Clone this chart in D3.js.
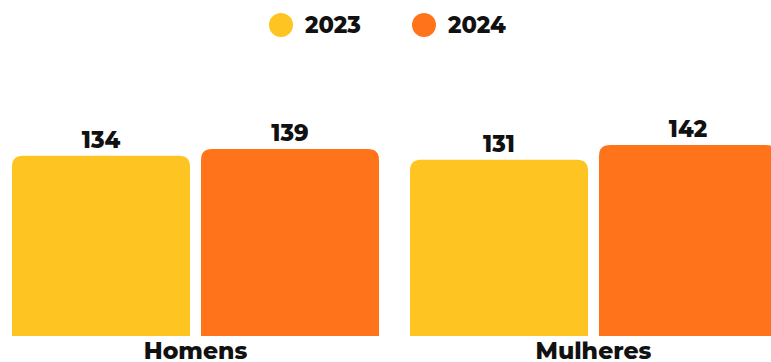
<!DOCTYPE html>
<html><head><meta charset="utf-8">
<script src="https://cdn.jsdelivr.net/npm/d3@7"></script>
<style>body{margin:0;background:#fff;overflow:hidden}text{font-family:Montserrat,Inter,"Open Sans",sans-serif;font-weight:800;fill:#111}</style>
</head><body><svg id="c" width="771" height="362"></svg>
<script>
const categories = ["Homens", "Mulheres"];
const years = ["2023", "2024"];
const values2023 = [134, 131];
const values2024 = [139, 142];
const colors = ["#FEC421", "#FF741B"];

const svg = d3.select("#c");
const baseY = 336;
const y = d3.scaleLinear().domain([0, 142]).range([baseY, 145]);
const x0 = d3.scaleBand().domain(categories).range([12, 777]).paddingInner(31/398).paddingOuter(0);
const x1 = d3.scaleBand().domain(years).range([0, x0.bandwidth()]).paddingInner(11/189).paddingOuter(0);
const color = d3.scaleOrdinal().domain(years).range(colors);

const data = categories.map((c,i)=>({cat:c, vals:[{year:"2023",v:values2023[i]},{year:"2024",v:values2024[i]}]}));

function topRounded(x, yTop, w, h, r){
  r = Math.min(r, w/2, h);
  return `M${x},${yTop+h}V${yTop+r}Q${x},${yTop} ${x+r},${yTop}H${x+w-r}Q${x+w},${yTop} ${x+w},${yTop+r}V${yTop+h}Z`;
}

const g = svg.selectAll("g.grp").data(data).join("g").attr("class","grp")
  .attr("transform", d=>`translate(${x0(d.cat)},0)`);
g.selectAll("path").data(d=>d.vals).join("path")
  .attr("fill", d=>color(d.year))
  .attr("d", d=>topRounded(x1(d.year), y(d.v), x1.bandwidth(), baseY - y(d.v), 11));
g.selectAll("text.val").data(d=>d.vals).join("text").attr("class","val")
  .attr("x", d=>x1(d.year)+x1.bandwidth()/2).attr("y", d=>y(d.v)-8)
  .attr("text-anchor","middle").style("font-size","22.5px").text(d=>d.v);

const xAxis = svg.append("g").attr("transform",`translate(0,${baseY})`)
  .call(d3.axisBottom(x0).tickSize(0).tickPadding(0));
xAxis.select(".domain").remove();
xAxis.selectAll("text").attr("dy",null).attr("y",23).style("font-size","23.5px").style("fill","#111").attr("font-family",null);

const legendX = [281, 424];
const lg = svg.selectAll("g.lg").data(years).join("g").attr("class","lg")
  .attr("transform",(d,i)=>`translate(${legendX[i]},25)`);
lg.append("circle").attr("r",12).attr("fill",d=>color(d));
lg.append("text").attr("x",24).attr("y",8).style("font-size","22.5px").text(d=>d);
</script></body></html>
